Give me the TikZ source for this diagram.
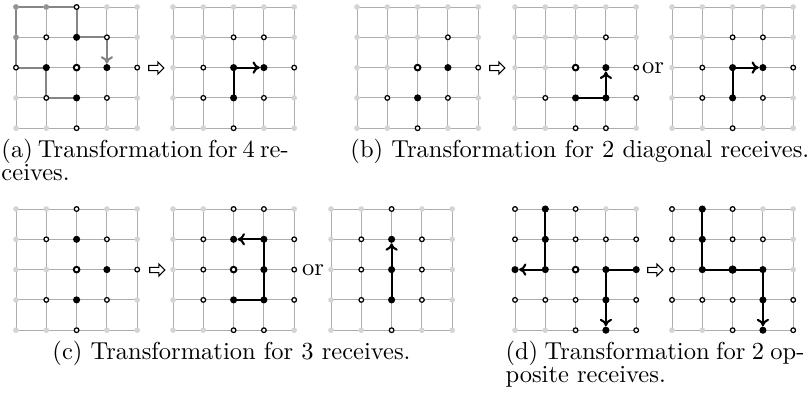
\documentclass[tikz,border=0pt]{standalone}
\usepackage{tikz}
\usetikzlibrary{positioning,backgrounds,shapes.arrows,arrows.meta}

\begin{document}
\begin{tikzpicture}[
    x=0.408pt, y=-0.408pt,
    idle/.style={circle, fill=black!17, inner sep=0pt, minimum size=2.3pt},
    idledark/.style={idle, fill=black!42},
    recv/.style={circle, draw, fill=white, line width=0.5pt, inner sep=0pt, minimum size=1.9pt},
    busy/.style={circle, fill=black, inner sep=0pt, minimum size=2.9pt},
    hub/.style={circle, draw, fill=white, line width=0.8pt, inner sep=0pt, minimum size=2.3pt},
    hubfull/.style={circle, fill=black, inner sep=0pt, minimum size=3.4pt},
    gridline/.style={black!32, line width=0.4pt},
    route/.style={-{To[length=3pt,width=5pt]}, line width=0.85pt},
    oldroute/.style={route, black!48},
    becomes/.style={single arrow, draw, line width=0.45pt, inner sep=0.7pt, minimum height=6.2pt, minimum width=5pt, single arrow head extend=1.2pt},
    caption/.style={anchor=base west, inner sep=0pt}
]
\useasboundingbox (0,0) rectangle (809,398);

% 5x5 meshes, every node idle first
\foreach \g/\gx/\gy in {a1/16/7, a2/173/7, b1/357/7, b2/515/7, b3/672/7,
                        c1/16/209, c2/173/209, c3/331/209, d1/515/209, d2/672/209}
  \foreach \i in {0,...,4}
    \foreach \j in {0,...,4}
      \node[idle] (\g-\i-\j) at ({\gx+\i*30.3},{\gy+\j*30.3}) {};

% nodes that take part
\foreach \i/\j/\s in {0/0/idledark, 1/0/idledark, 0/1/idledark, 2/0/recv, 1/1/recv, 2/1/busy, 3/1/recv,
    0/2/recv, 1/2/busy, 2/2/hub, 3/2/busy, 4/2/recv, 1/3/recv, 2/3/busy, 3/3/recv, 2/4/recv}
  \node[\s] (a1-\i-\j) at (a1-\i-\j) {};
\foreach \i/\j/\s in {2/1/recv, 3/1/recv, 1/2/recv, 2/2/busy, 3/2/busy, 4/2/recv,
    1/3/recv, 2/3/busy, 3/3/recv, 2/4/recv}
  \node[\s] (a2-\i-\j) at (a2-\i-\j) {};
\foreach \i/\j/\s in {3/1/recv, 2/2/hub, 3/2/busy, 4/2/recv, 1/3/recv, 2/3/busy, 3/3/recv, 2/4/recv}
  \node[\s] (b1-\i-\j) at (b1-\i-\j) {};
\foreach \i/\j/\s in {3/1/recv, 2/2/hub, 3/2/busy, 4/2/recv, 1/3/recv, 2/3/busy, 3/3/busy,
    4/3/recv, 2/4/recv, 3/4/recv}
  \node[\s] (b2-\i-\j) at (b2-\i-\j) {};
\foreach \i/\j/\s in {2/1/recv, 3/1/recv, 1/2/recv, 2/2/busy, 3/2/busy, 4/2/recv,
    1/3/recv, 2/3/busy, 3/3/recv, 2/4/recv}
  \node[\s] (b3-\i-\j) at (b3-\i-\j) {};
\foreach \i/\j/\s in {2/0/recv, 1/1/recv, 2/1/busy, 3/1/recv, 2/2/hub, 3/2/busy, 4/2/recv,
    1/3/recv, 2/3/busy, 3/3/recv, 2/4/recv}
  \node[\s] (c1-\i-\j) at (c1-\i-\j) {};
\foreach \i/\j/\s in {2/0/recv, 3/0/recv, 1/1/recv, 2/1/busy, 3/1/busy, 4/1/recv, 1/2/recv, 2/2/hub,
    3/2/busy, 4/2/recv, 1/3/recv, 2/3/busy, 3/3/busy, 4/3/recv, 2/4/recv, 3/4/recv}
  \node[\s] (c2-\i-\j) at (c2-\i-\j) {};
\foreach \i/\j/\s in {2/0/recv, 1/1/recv, 2/1/busy, 3/1/recv, 1/2/recv, 2/2/busy, 3/2/recv,
    1/3/recv, 2/3/busy, 3/3/recv, 2/4/recv}
  \node[\s] (c3-\i-\j) at (c3-\i-\j) {};
\foreach \i/\j/\s in {0/0/recv, 1/0/busy, 2/0/recv, 0/1/recv, 1/1/busy, 2/1/recv, 3/1/recv, 4/1/recv,
    0/2/busy, 1/2/busy, 2/2/hub, 3/2/busy, 4/2/busy, 0/3/recv, 1/3/recv, 2/3/recv, 3/3/busy,
    4/3/recv, 2/4/recv, 3/4/busy, 4/4/recv}
  \node[\s] (d1-\i-\j) at (d1-\i-\j) {};
\foreach \i/\j/\s in {0/0/recv, 1/0/busy, 2/0/recv, 0/1/recv, 1/1/busy, 2/1/recv, 3/1/recv,
    0/2/recv, 1/2/busy, 2/2/hubfull, 3/2/busy, 0/3/recv, 1/3/recv, 2/3/recv, 3/3/busy,
    4/3/recv, 2/4/recv, 3/4/busy, 4/4/recv}
  \node[\s] (d2-\i-\j) at (d2-\i-\j) {};

% links and routes below the nodes
\begin{pgfonlayer}{background}
\foreach \g in {a1,a2,b1,b2,b3,c1,c2,c3,d1,d2}
  \foreach \k in {0,...,4} {
    \draw[gridline] (\g-0-\k.center) -- (\g-4-\k.center);
    \draw[gridline] (\g-\k-0.center) -- (\g-\k-4.center);
  }
\draw[oldroute] (a1-2-3.center) -- (a1-1-3.center) -- (a1-1-2.center) -- (a1-0-2.center)
  -- (a1-0-0.center) -- (a1-2-0.center) -- (a1-2-1.center) -- (a1-3-1.center) -- (a1-3-2);
\draw[route] (a2-2-3.center) -- (a2-2-2.center) -- (a2-3-2);
\draw[route] (b2-2-3.center) -- (b2-3-3.center) -- (b2-3-2);
\draw[route] (b3-2-3.center) -- (b3-2-2.center) -- (b3-3-2);
\draw[route] (c2-2-3.center) -- (c2-3-3.center) -- (c2-3-2.center) -- (c2-3-1.center) -- (c2-2-1);
\draw[route] (c3-2-3.center) -- (c3-2-2.center) -- (c3-2-1);
\draw[route] (d1-1-0.center) -- (d1-1-1.center) -- (d1-1-2.center) -- (d1-0-2);
\draw[route] (d1-4-2.center) -- (d1-3-2.center) -- (d1-3-3.center) -- (d1-3-4);
\draw[route] (d2-1-0.center) -- (d2-1-1.center) -- (d2-1-2.center) -- (d2-2-2.center)
  -- (d2-3-2.center) -- (d2-3-3.center) -- (d2-3-4);
\end{pgfonlayer}

\node[becomes] (toa) at (155,68) {};
\node[becomes] (tob) at (496,68) {};
\node[becomes] (toc) at (156,270) {};
\node[becomes] (tod) at (654,270) {};
\node (orb) at (653,68) {or};
\node (orc) at (313,270) {or};

\node[caption] (capa) at (1,157) {\spaceskip=2.1pt (a) Transformation for 4 re-};
\node[caption] (capa2) at (1,180) {ceives.};
\node[caption] (capb) at (350,157) {(b) Transformation for 2 diagonal receives.};
\node[caption] (capc) at (52,359) {(c) Transformation for 3 receives.};
\node[caption] (capd) at (505,359) {\spaceskip=2.6pt (d) Transformation for 2 op-};
\node[caption] (capd2) at (505,382) {posite receives.};
\end{tikzpicture}
\end{document}
